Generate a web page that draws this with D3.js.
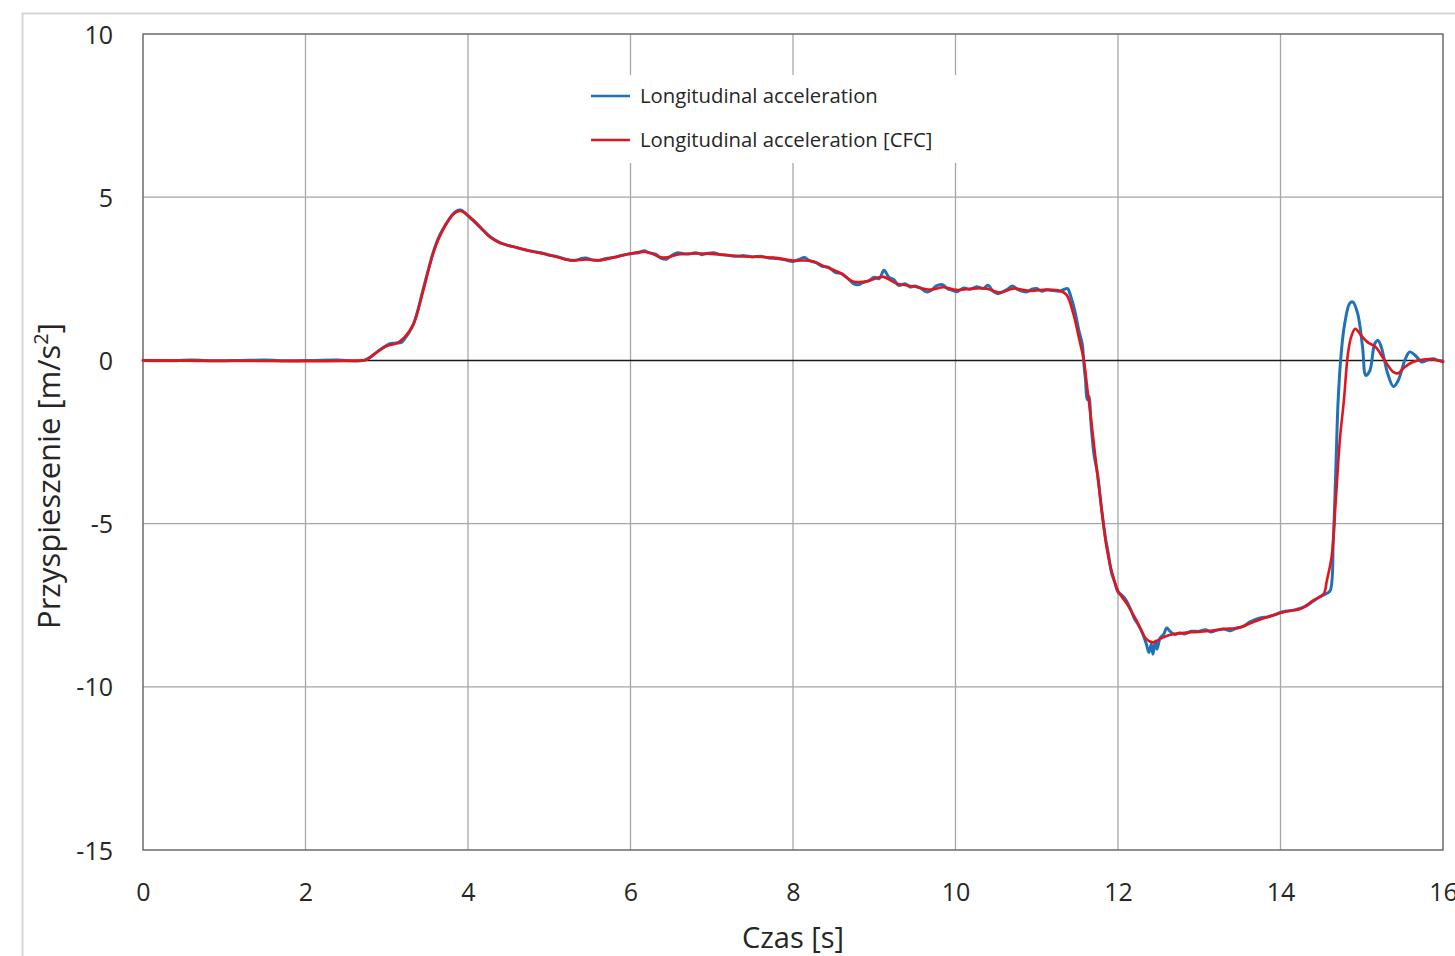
<!DOCTYPE html>
<html>
<head>
<meta charset="utf-8">
<script src="https://cdn.jsdelivr.net/npm/d3@7"></script>
<style>
  html, body { margin: 0; padding: 0; background: #fff; }
  svg { display: block; }
</style>
</head>
<body>
<svg id="chart" width="1455" height="956"></svg>
<script>
// Time axis ticks [s] and acceleration ticks [m/s^2]
const xTicks = [0, 2, 4, 6, 8, 10, 12, 14, 16];
const yTicks = [10, 5, 0, -5, -10, -15];

const seriesNames = ["Longitudinal acceleration", "Longitudinal acceleration [CFC]"];

// Raw longitudinal acceleration: [time s, acceleration m/s^2]
const rawAccel = [
  [0, 0], [0.3, -0.01], [0.6, 0.01], [0.9, -0.01], [1.2, 0], [1.5, 0.01], [1.8, -0.01],
  [2.1, 0], [2.4, 0.01], [2.6, -0.02], [2.72, 0], [2.8, 0.1], [2.9, 0.3], [3.0, 0.46],
  [3.05, 0.52], [3.12, 0.53], [3.18, 0.55], [3.22, 0.66], [3.28, 0.88], [3.33, 1.12],
  [3.4, 1.7], [3.45, 2.2], [3.52, 2.85], [3.57, 3.3], [3.63, 3.72], [3.69, 4.02],
  [3.76, 4.3], [3.82, 4.5], [3.88, 4.6], [3.92, 4.6], [3.97, 4.5], [4.02, 4.38],
  [4.1, 4.2], [4.2, 3.95], [4.3, 3.74], [4.4, 3.6], [4.5, 3.52], [4.6, 3.46], [4.7, 3.39],
  [4.8, 3.34], [4.9, 3.3], [5.0, 3.22], [5.1, 3.18], [5.2, 3.1], [5.3, 3.06], [5.4, 3.12],
  [5.45, 3.14], [5.52, 3.08], [5.6, 3.06], [5.7, 3.12], [5.8, 3.16], [5.9, 3.22],
  [6.0, 3.27], [6.1, 3.3], [6.17, 3.36], [6.22, 3.3], [6.3, 3.26], [6.38, 3.13],
  [6.44, 3.1], [6.5, 3.2], [6.58, 3.3], [6.65, 3.27], [6.72, 3.26], [6.8, 3.3],
  [6.88, 3.24], [6.95, 3.28], [7.02, 3.3], [7.1, 3.24], [7.2, 3.22], [7.3, 3.19],
  [7.4, 3.21], [7.5, 3.17], [7.6, 3.19], [7.7, 3.14], [7.8, 3.12], [7.9, 3.08],
  [8.0, 3.03], [8.08, 3.1], [8.14, 3.15], [8.2, 3.06], [8.28, 3.0], [8.36, 2.88],
  [8.44, 2.85], [8.52, 2.7], [8.6, 2.66], [8.68, 2.5], [8.74, 2.36], [8.8, 2.32],
  [8.86, 2.38], [8.94, 2.45], [9.0, 2.55], [9.06, 2.5], [9.12, 2.76], [9.18, 2.55],
  [9.24, 2.48], [9.3, 2.3], [9.38, 2.35], [9.44, 2.25], [9.5, 2.28], [9.58, 2.2],
  [9.64, 2.1], [9.7, 2.14], [9.76, 2.28], [9.84, 2.32], [9.9, 2.2], [9.96, 2.15],
  [10.02, 2.1], [10.1, 2.22], [10.18, 2.18], [10.26, 2.26], [10.34, 2.2], [10.4, 2.3],
  [10.46, 2.12], [10.52, 2.04], [10.58, 2.1], [10.64, 2.18], [10.7, 2.28], [10.76, 2.18],
  [10.82, 2.12], [10.88, 2.1], [10.94, 2.18], [11.0, 2.2], [11.06, 2.12], [11.12, 2.16],
  [11.2, 2.14], [11.28, 2.12], [11.34, 2.18], [11.38, 2.2], [11.42, 1.95], [11.47, 1.5],
  [11.52, 0.9], [11.56, 0.5], [11.58, -0.1], [11.6, -0.6], [11.62, -1.2], [11.64, -1.1],
  [11.67, -2.0], [11.7, -2.8], [11.72, -3.1], [11.75, -3.5], [11.8, -4.6], [11.85, -5.5],
  [11.88, -5.9], [11.92, -6.5], [11.96, -6.8], [12.0, -7.1], [12.05, -7.2], [12.1, -7.35],
  [12.15, -7.6], [12.2, -7.9], [12.25, -8.1], [12.3, -8.35], [12.35, -8.7], [12.38, -8.95],
  [12.41, -8.7], [12.43, -9.0], [12.46, -8.6], [12.48, -8.85], [12.52, -8.5], [12.56, -8.4],
  [12.6, -8.2], [12.64, -8.3], [12.7, -8.4], [12.76, -8.35], [12.82, -8.38], [12.9, -8.3],
  [13.0, -8.3], [13.08, -8.25], [13.14, -8.32], [13.2, -8.28], [13.3, -8.23], [13.38, -8.28],
  [13.46, -8.2], [13.54, -8.15], [13.62, -8.02], [13.68, -7.95], [13.76, -7.88],
  [13.84, -7.86], [13.92, -7.8], [14.0, -7.72], [14.08, -7.68], [14.16, -7.65],
  [14.24, -7.6], [14.32, -7.52], [14.4, -7.38], [14.48, -7.25], [14.56, -7.15],
  [14.61, -7.06], [14.65, -5.5], [14.68, -3.4], [14.71, -1.2], [14.75, 0.3], [14.79, 1.12],
  [14.85, 1.74], [14.89, 1.79], [14.95, 1.43], [15.01, 0.41], [15.05, -0.46], [15.1, -0.31],
  [15.16, 0.51], [15.2, 0.61], [15.24, 0.41], [15.32, -0.41], [15.39, -0.8], [15.45, -0.61],
  [15.53, 0], [15.59, 0.26], [15.66, 0.15], [15.74, -0.05], [15.8, 0], [15.88, 0.05],
  [15.94, 0], [16, -0.02]
];

// CFC-filtered longitudinal acceleration: [time s, acceleration m/s^2]
const cfcAccel = [
  [0, 0], [2.7, 0], [2.75, 0.02], [2.85, 0.2], [3.0, 0.44], [3.12, 0.52], [3.22, 0.71],
  [3.33, 1.12], [3.45, 2.15], [3.57, 3.27], [3.69, 3.99], [3.82, 4.48], [3.9, 4.58],
  [3.96, 4.52], [4.02, 4.4], [4.15, 4.09], [4.27, 3.78], [4.39, 3.6], [4.56, 3.48],
  [4.76, 3.35], [4.97, 3.25], [5.26, 3.07], [5.46, 3.09], [5.62, 3.07], [5.79, 3.15],
  [5.99, 3.27], [6.2, 3.32], [6.4, 3.15], [6.61, 3.25], [6.94, 3.27], [7.35, 3.19],
  [7.76, 3.15], [8.0, 3.06], [8.21, 3.05], [8.41, 2.86], [8.58, 2.68], [8.74, 2.42],
  [8.91, 2.42], [9.11, 2.56], [9.27, 2.36], [9.48, 2.27], [9.69, 2.17], [9.85, 2.24],
  [10.01, 2.16], [10.22, 2.2], [10.38, 2.2], [10.55, 2.08], [10.71, 2.2], [10.92, 2.13],
  [11.12, 2.17], [11.3, 2.12], [11.37, 2.0], [11.45, 1.43], [11.52, 0.68], [11.58, 0],
  [11.62, -0.82], [11.68, -2.05], [11.74, -3.37], [11.8, -4.6], [11.86, -5.73],
  [11.92, -6.44], [12.0, -7.06], [12.11, -7.46], [12.23, -7.98], [12.35, -8.54],
  [12.43, -8.64], [12.55, -8.49], [12.67, -8.39], [12.89, -8.33], [13.09, -8.3],
  [13.3, -8.23], [13.5, -8.18], [13.66, -8.02], [13.83, -7.87], [14.07, -7.69],
  [14.24, -7.62], [14.4, -7.36], [14.53, -7.16], [14.57, -6.75], [14.63, -6.0],
  [14.68, -4.3], [14.73, -2.45], [14.78, -1.23], [14.83, 0.2], [14.87, 0.72], [14.92, 0.97],
  [14.99, 0.77], [15.07, 0.56], [15.17, 0.41], [15.27, 0.05], [15.39, -0.36],
  [15.45, -0.39], [15.53, -0.2], [15.63, -0.05], [15.76, 0.03], [15.88, 0.03], [16.0, -0.05]
];

const colors = ["#1f72b8", "#e3141c"];
const FONT = "'Open Sans', 'DejaVu Sans', sans-serif";
const TEXT = "#262626";

const svg = d3.select("#chart");
const plot = { left: 143, top: 34, right: 1443, bottom: 850 };

const x = d3.scaleLinear().domain([0, 16]).range([plot.left, plot.right]);
const y = d3.scaleLinear().domain([-15, 10]).range([plot.bottom, plot.top]);

// Plain hyphen-minus for negative tick labels
const plainNumber = d => String(d);

// Outer chart-area frame
svg.append("rect")
  .attr("x", 22.5).attr("y", 13.5)
  .attr("width", 1500).attr("height", 1000)
  .attr("fill", "#fff")
  .attr("stroke", "#d6d6d6").attr("stroke-width", 2);

// Gridlines
const grid = svg.append("g");
grid.selectAll("line.vx").data(xTicks.slice(1, -1)).join("line")
  .attr("x1", d => x(d)).attr("x2", d => x(d))
  .attr("y1", plot.top).attr("y2", plot.bottom)
  .attr("stroke", "#a6a6a6").attr("stroke-width", 1.3);
grid.selectAll("line.hy").data(yTicks.filter(d => d !== 0 && d !== 10 && d !== -15)).join("line")
  .attr("x1", plot.left).attr("x2", plot.right)
  .attr("y1", d => y(d)).attr("y2", d => y(d))
  .attr("stroke", "#a6a6a6").attr("stroke-width", 1.3);

// Plot border
svg.append("rect")
  .attr("x", plot.left).attr("y", plot.top)
  .attr("width", plot.right - plot.left).attr("height", plot.bottom - plot.top)
  .attr("fill", "none").attr("stroke", "#6b6b6b").attr("stroke-width", 1.5);

// Zero line
svg.append("line")
  .attr("x1", plot.left).attr("x2", plot.right)
  .attr("y1", y(0)).attr("y2", y(0))
  .attr("stroke", "#1a1a1a").attr("stroke-width", 1.5);

// Axes (labels only, no tick marks)
const xAxis = d3.axisBottom(x).tickValues(xTicks).tickSize(0).tickPadding(0).tickFormat(plainNumber);
const gx = svg.append("g").attr("transform", `translate(0,${plot.bottom})`).call(xAxis);
gx.select(".domain").remove();
gx.selectAll("text")
  .attr("dy", 0).attr("y", 51)
  .attr("font-family", FONT).attr("font-size", 25).attr("fill", TEXT);

const yAxis = d3.axisLeft(y).tickValues(yTicks).tickSize(0).tickPadding(0).tickFormat(plainNumber);
const gy = svg.append("g").attr("transform", `translate(${plot.left},0)`).call(yAxis);
gy.select(".domain").remove();
gy.selectAll("text")
  .attr("x", -30).attr("dy", "0.36em")
  .attr("font-family", FONT).attr("font-size", 25).attr("fill", TEXT);

// Axis titles
svg.append("text")
  .attr("x", x(8)).attr("y", 948)
  .attr("text-anchor", "middle")
  .attr("font-family", FONT).attr("font-size", 29).attr("fill", TEXT)
  .text("Czas [s]");

const yTitle = svg.append("text")
  .attr("transform", `translate(60,476) rotate(-90)`)
  .attr("text-anchor", "middle")
  .attr("font-family", FONT).attr("font-size", 31).attr("fill", TEXT);
yTitle.append("tspan").text("Przyspieszenie [m/s");
yTitle.append("tspan").attr("dy", -12).attr("font-size", 20).text("2");
yTitle.append("tspan").attr("dy", 12).text("]");

// Series lines
const line = d3.line()
  .x(d => x(d[0])).y(d => y(d[1]))
  .curve(d3.curveCatmullRom.alpha(0.5));

const lines = svg.append("g");
[rawAccel, cfcAccel].forEach((data, i) => {
  lines.append("path")
    .datum(data)
    .attr("d", line)
    .attr("fill", "none")
    .attr("stroke", colors[i])
    .attr("stroke-width", i === 0 ? 3 : 2.6)
    .attr("stroke-linejoin", "round")
    .attr("stroke-linecap", "round");
});

// Legend
const legend = svg.append("g");
legend.append("rect")
  .attr("x", 573).attr("y", 75).attr("width", 392).attr("height", 88)
  .attr("fill", "#fff");
seriesNames.forEach((name, i) => {
  const ly = 96 + i * 44;
  legend.append("line")
    .attr("x1", 591).attr("x2", 630).attr("y1", ly).attr("y2", ly)
    .attr("stroke", colors[i]).attr("stroke-width", 2.6);
  legend.append("text")
    .attr("x", 640).attr("y", ly).attr("dy", "0.35em")
    .attr("font-family", FONT).attr("font-size", 20.3).attr("fill", TEXT)
    .text(name);
});
</script>
</body>
</html>
